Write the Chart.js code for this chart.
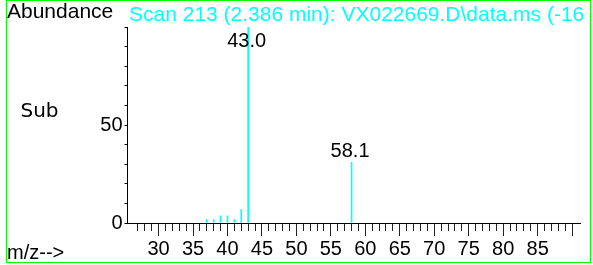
<!DOCTYPE html>
<html>
<head>
<meta charset="utf-8">
<script src="https://cdn.jsdelivr.net/npm/chart.js@4.4.0/dist/chart.umd.min.js"></script>
<style>
  html, body { margin: 0; padding: 0; background: #ffffff; }
  canvas { display: block; }
</style>
</head>
<body>
<canvas id="msChart" width="593" height="265"></canvas>
<script>
// data (scan 213)
const mzValues = [37, 38, 39, 40, 41, 42, 43, 58];
const abundance = [1.7, 1.7, 3.7, 3.7, 1.7, 6.8, 100, 31];
const peakLabels = ['', '', '', '', '', '', '43.0', '58.1'];

// axis stuff
const xTickLabels = [30, 35, 40, 45, 50, 55, 60, 65, 70, 75, 80, 85];
const yTickLabels = [0, 50];
const xMin = 26, xMax = 90.7;
const yMin = 0, yMax = 100;

const scanTitle = 'Scan 213 (2.386 min): VX022669.D\\data.ms (-16';
const arial = '"Liberation Sans", Arial, sans-serif';

const canvas = document.getElementById('msChart');
const ctx = canvas.getContext('2d');

// tick marks on the m/z axis: short every 1, long every 5
const mzTicksPlugin = {
    id: 'mzTicks',
    afterDraw(chart) {
        const xs = chart.scales.x;
        const c = chart.ctx;
        c.save();
        c.strokeStyle = '#222';
        c.lineWidth = 1;
        xs.ticks.forEach(t => {
            const v = t.value;
            if (v <= xMin || v !== Math.round(v)) return;
            const px = Math.round(xs.getPixelForValue(v) - 0.5) + 0.5;
            const len = v % 5 === 0 ? 12 : 7;
            c.beginPath();
            c.moveTo(px, xs.top + 1);
            c.lineTo(px, xs.top + 1 + len);
            c.stroke();
        });
        c.restore();
    }
};

// 43.0 / 58.1 labels above the peaks
const peakLabelPlugin = {
    id: 'peakLabels',
    afterDatasetsDraw(chart) {
        const { ctx: c, chartArea, scales: { x, y } } = chart;
        c.save();
        c.font = '20px ' + arial;
        c.fillStyle = '#000';
        c.textAlign = 'center';
        c.textBaseline = 'alphabetic';
        mzValues.forEach((m, i) => {
            if (!peakLabels[i]) return;
            const px = x.getPixelForValue(m) - 1.5;
            const py = Math.max(y.getPixelForValue(abundance[i]) - 5, chartArea.top + 20);
            c.fillText(peakLabels[i], px, py);
        });
        c.restore();
    }
};

// header texts + green frame
const framePlugin = {
    id: 'frame',
    afterDraw(chart) {
        const c = chart.ctx;
        c.save();
        c.textAlign = 'left';
        c.textBaseline = 'alphabetic';
        c.font = '21px ' + arial;
        c.fillStyle = '#000';
        c.fillText('Abundance', 7, 18);
        c.fillStyle = '#00ffff';
        c.fillText(scanTitle, 129, 20.5);
        c.fillStyle = '#000';
        c.font = '20px ' + arial;
        c.fillText('m/z-->', 7, 259);
        c.font = '20px "DejaVu Sans", sans-serif';
        c.fillText('Sub', 20.5, 116.5);
        c.strokeStyle = '#00ff00';
        c.lineWidth = 1;
        c.strokeRect(6.5, 0.5, 584, 262);
        c.restore();
    }
};

const chart = new Chart(ctx, {
    type: 'bar',
    data: {
        datasets: [{
            data: mzValues.map((m, i) => ({ x: m, y: abundance[i] })),
            backgroundColor: '#00ffff',
            borderWidth: 0,
            barThickness: 1
        }]
    },
    options: {
        responsive: false,
        animation: false,
        layout: { padding: { top: 27, right: 12.6, left: 0, bottom: 0 } },
        plugins: {
            legend: { display: false },
            tooltip: { enabled: false }
        },
        scales: {
            x: {
                type: 'linear',
                min: xMin,
                max: xMax,
                grid: { display: false },
                border: { display: true, color: '#000', width: 1 },
                ticks: {
                    stepSize: 1,
                    autoSkip: false,
                    includeBounds: false,
                    maxRotation: 0,
                    padding: 6,
                    color: '#000',
                    font: { family: arial, size: 20 },
                    callback: (v) => xTickLabels.includes(v) ? String(v) : ''
                },
                afterFit: (s) => { s.height = 42; }
            },
            y: {
                min: yMin,
                max: yMax,
                grid: { drawOnChartArea: false, tickLength: 3, color: '#000' },
                border: { display: true, color: '#000', width: 1 },
                ticks: {
                    stepSize: 10,
                    autoSkip: false,
                    padding: 2,
                    color: '#000',
                    font: { family: arial, size: 20 },
                    callback: (v) => yTickLabels.includes(v) ? String(v) : ''
                },
                afterFit: (s) => { s.width = 127.5; }
            }
        }
    },
    plugins: [mzTicksPlugin, peakLabelPlugin, framePlugin]
});
</script>
</body>
</html>
